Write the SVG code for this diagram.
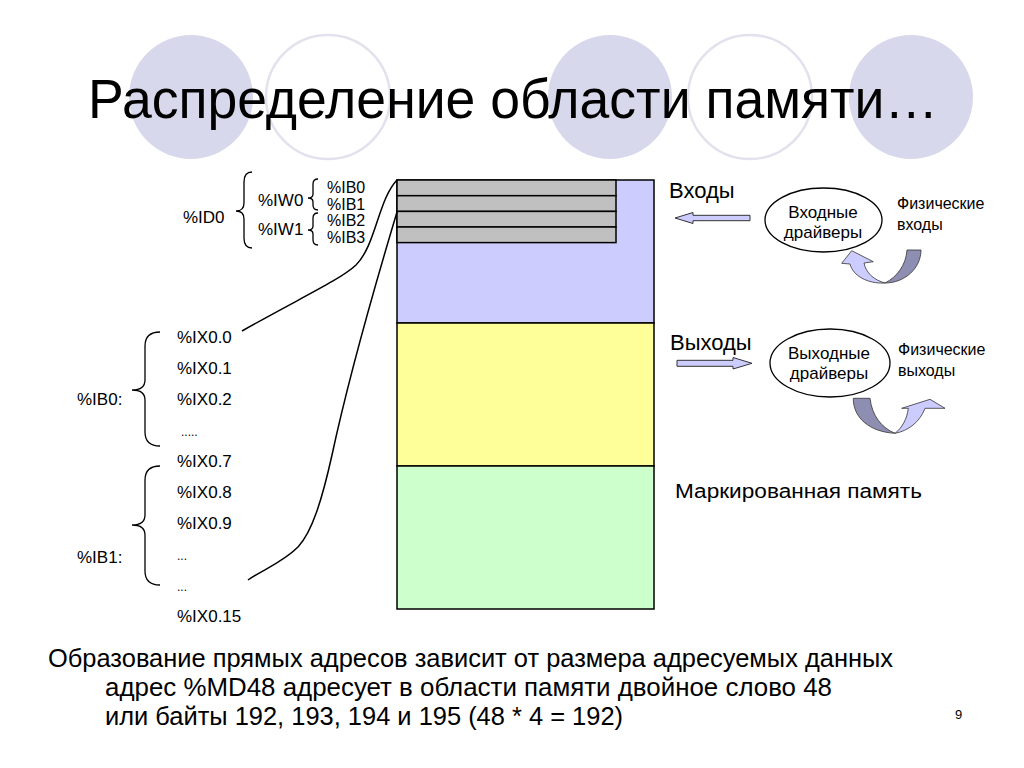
<svg xmlns="http://www.w3.org/2000/svg" width="1024" height="768" viewBox="0 0 1024 768">
<style>
text{font-family:"Liberation Sans",Arial,sans-serif;fill:#000}
.lbl{font-size:17px}
.ib{font-size:16px}
.el{font-size:17px}
.ph{font-size:16px}
.big{font-size:22px}
.brace{fill:none;stroke:#000;stroke-width:1.3}
.cf{fill:#D8D8EC}
.co{fill:none;stroke:#E2E2EE;stroke-width:2.5}
.blk{stroke:#000;stroke-width:1.5}
.conn{fill:none;stroke:#000;stroke-width:1.5}
.arr{fill:#CCCCFF;stroke:#333;stroke-width:1}
.ell{fill:#fff;stroke:#000;stroke-width:1.3}
.dk{fill:#8E8EB2;stroke:#333;stroke-width:0.8}
.lt{fill:#CCCCFF;stroke:#333;stroke-width:0.8}
</style>
<rect width="1024" height="768" fill="#fff"/>
<g id="decor">
<circle class="cf" cx="191" cy="97" r="62"/>
<circle class="co" cx="328" cy="97" r="62"/>
<circle class="cf" cx="610" cy="97" r="62"/>
<circle class="co" cx="750" cy="97" r="62"/>
<circle class="cf" cx="911" cy="97" r="62"/>
</g>
<text id="title" x="88" y="118" font-size="56" textLength="850" lengthAdjust="spacingAndGlyphs">Распределение области памяти…</text>

<g id="memory">
<rect x="397" y="180" width="257" height="143" fill="#CCCCFF" class="blk"/>
<rect x="397" y="323" width="257" height="143" fill="#FFFF99" class="blk"/>
<rect x="397" y="466" width="257" height="143" fill="#CCFFCC" class="blk"/>
<rect x="397" y="180" width="219" height="15.7" fill="#C0C0C0" class="blk"/>
<rect x="397" y="195.7" width="219" height="15.7" fill="#C0C0C0" class="blk"/>
<rect x="397" y="211.4" width="219" height="15.6" fill="#C0C0C0" class="blk"/>
<rect x="397" y="227" width="219" height="15.6" fill="#C0C0C0" class="blk"/>
</g>

<g id="connectors">
<path class="conn" d="M397,180 C378,200 376,245 356,265 C340,280 300,298 242,331"/>
<path class="conn" d="M397,212 C382,262 352,362 332,455 C322,500 312,532 298,547 C282,563 262,570 248,580"/>
</g>

<g id="byte-labels">
<text class="lbl" x="183" y="223">%ID0</text>
<path class="brace" d="M252,172 Q244,172 244,182 L244,203 Q244,211 236,211 Q244,211 244,219 L244,238 Q244,248 252,248"/>
<text class="lbl" x="258" y="206">%IW0</text>
<text class="lbl" x="258" y="235">%IW1</text>
<path class="brace" d="M318,179 Q313,179 313,184 L313,194 Q313,198 308,198 Q313,198 313,202 L313,205 Q313,210 318,210"/>
<path class="brace" d="M318,213 Q313,213 313,218 L313,226 Q313,230 308,230 Q313,230 313,234 L313,240 Q313,245 318,245"/>
<text class="ib" x="327" y="193">%IB0</text>
<text class="ib" x="327" y="209.5">%IB1</text>
<text class="ib" x="327" y="226">%IB2</text>
<text class="ib" x="327" y="242.5">%IB3</text>
</g>

<g id="bit-labels">
<text class="lbl" x="77" y="405">%IB0:</text>
<path class="brace" d="M160,332 Q145,332 145,346 L145,380 Q145,390 132,390 Q145,390 145,400 L145,432 Q145,446 160,446"/>
<text class="lbl" x="77" y="563">%IB1:</text>
<path class="brace" d="M160,466 Q145,466 145,480 L145,515 Q145,525 132,525 Q145,525 145,535 L145,571 Q145,585 160,585"/>
<text class="lbl" x="177" y="343">%IX0.0</text>
<text class="lbl" x="177" y="374">%IX0.1</text>
<text class="lbl" x="177" y="405">%IX0.2</text>
<text x="181" y="436" font-size="12">.....</text>
<text class="lbl" x="177" y="467">%IX0.7</text>
<text class="lbl" x="177" y="498">%IX0.8</text>
<text class="lbl" x="177" y="529">%IX0.9</text>
<text x="177" y="560" font-size="12">...</text>
<text x="177" y="591" font-size="12">...</text>
<text class="lbl" x="177" y="622">%IX0.15</text>
</g>

<g id="inputs">
<text class="big" x="669" y="198">Входы</text>
<path class="arr" d="M675,218 L693,212.5 L693,215.3 L750,215.3 L750,220.7 L693,220.7 L693,223.5 Z"/>
<ellipse class="ell" cx="823.5" cy="220" rx="58.5" ry="32"/>
<text class="el" x="823" y="218" text-anchor="middle">Входные</text>
<text class="el" x="823" y="238" text-anchor="middle">драйверы</text>
<text class="ph" x="897" y="209">Физические</text>
<text class="ph" x="897" y="230">входы</text>
<path class="dk" d="M907,250 L921,250 C921,268 905,283 885,283 C897,277 906,265 907,250 Z"/>
<path class="lt" d="M850,264 L841.7,263.3 L851.7,250.7 L873.3,261.7 L864,263 C866,273 874,280 885,283 C868,284 853,276 850,264 Z"/>
</g>

<g id="outputs">
<text class="big" x="670" y="350">Выходы</text>
<path class="arr" d="M677,360.3 L733,360.3 L733,357.5 L752,363.3 L733,369 L733,366.3 L677,366.3 Z"/>
<ellipse class="ell" cx="830" cy="363" rx="60" ry="34"/>
<text class="el" x="829" y="359" text-anchor="middle">Выходные</text>
<text class="el" x="829" y="379" text-anchor="middle">драйверы</text>
<text class="ph" x="898" y="355">Физические</text>
<text class="ph" x="898" y="376">выходы</text>
<path class="dk" d="M853.3,398.3 L870,398.3 C872,416 882,428 895,433.3 C870,432 853,418 853.3,398.3 Z"/>
<path class="lt" d="M908.3,408.3 L901.7,408.3 L930,399.3 L945,408.3 L925,408.3 C920,422 908,431 895,433.3 C902,428 907,419 908.3,408.3 Z"/>
</g>

<text id="marked" x="675" y="498" font-size="20" textLength="247" lengthAdjust="spacingAndGlyphs">Маркированная память</text>

<g id="footer">
<text x="48" y="667" font-size="25" textLength="845" lengthAdjust="spacingAndGlyphs">Образование прямых адресов зависит от размера адресуемых данных</text>
<text x="105" y="696" font-size="25" textLength="727" lengthAdjust="spacingAndGlyphs">адрес %MD48 адресует в области памяти двойное слово 48</text>
<text x="105" y="725" font-size="25" textLength="518" lengthAdjust="spacingAndGlyphs">или байты 192, 193, 194 и 195 (48 * 4 = 192)</text>
<text x="955" y="719" font-size="13">9</text>
</g>
</svg>
